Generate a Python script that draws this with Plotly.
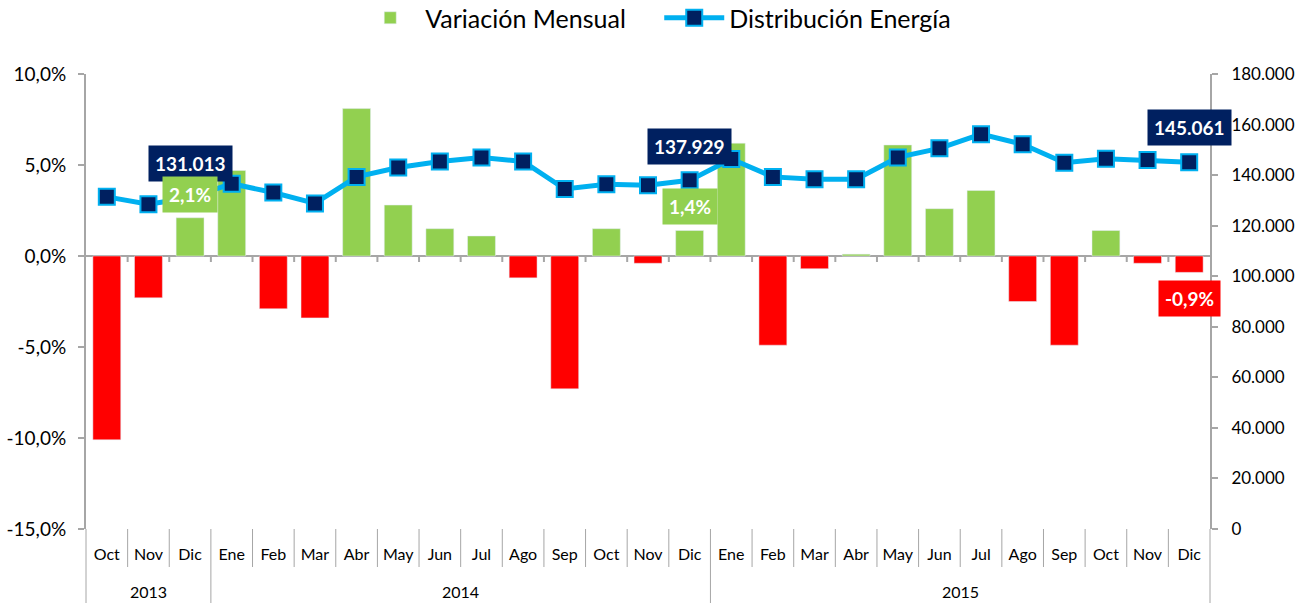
import plotly.graph_objects as go

months = ["Oct", "Nov", "Dic", "Ene", "Feb", "Mar", "Abr", "May", "Jun", "Jul", "Ago", "Sep",
          "Oct", "Nov", "Dic", "Ene", "Feb", "Mar", "Abr", "May", "Jun", "Jul", "Ago", "Sep",
          "Oct", "Nov", "Dic"]
years = ["2013"] * 3 + ["2014"] * 12 + ["2015"] * 12
variacion = [-10.1, -2.3, 2.1, 4.7, -2.9, -3.4, 8.1, 2.8, 1.5, 1.1, -1.2, -7.3,
             1.5, -0.4, 1.4, 6.2, -4.9, -0.7, 0.1, 6.1, 2.6, 3.6, -2.5, -4.9,
             1.4, -0.4, -0.9]
distribucion = [131400, 128500, 131013, 136600, 133100, 128800, 139300, 143000, 145400,
                147000, 145400, 134500, 136400, 136000, 137929, 146400, 139300, 138400,
                138400, 147000, 150600, 156200, 152200, 144900, 146500, 146000, 145061]
left_tickvals = [-15, -10, -5, 0, 5, 10]
left_ticktext = ["-15,0%", "-10,0%", "-5,0%", "0,0%", "5,0%", "10,0%"]
right_tickvals = [0, 20000, 40000, 60000, 80000, 100000, 120000, 140000, 160000, 180000]
right_ticktext = ["0", "20.000", "40.000", "60.000", "80.000", "100.000", "120.000",
                  "140.000", "160.000", "180.000"]

GREEN = "#92D050"
RED = "#FF0000"
NAVY = "#002060"
CYAN = "#00B0F0"
GREY = "#A6A6A6"
FONT = "Lato"

n = len(months)
xs = list(range(n))
pos = [v if v >= 0 else None for v in variacion]
neg = [v if v < 0 else None for v in variacion]

fig = go.Figure()
fig.add_trace(go.Bar(x=xs, y=pos, name="Variación Mensual", marker_color=GREEN,
                     width=0.67, yaxis="y"))
fig.add_trace(go.Bar(x=xs, y=neg, name="neg", marker_color=RED, width=0.67,
                     yaxis="y", showlegend=False))
fig.add_trace(go.Scatter(x=xs, y=distribucion, name="Distribución Energía", yaxis="y2",
                         mode="lines+markers",
                         line=dict(color=CYAN, width=5),
                         marker=dict(symbol="square", size=16, color=NAVY,
                                     line=dict(color=CYAN, width=2))))

lo, hi = -15, 10
zero_paper = (0 - lo) / (hi - lo)
px_h = 455.0
shapes = []
for i in range(n - 1):
    xp = (i + 1) / n
    shapes.append(dict(type="line", xref="paper", yref="paper", x0=xp, x1=xp,
                       y0=zero_paper, y1=zero_paper - 6 / px_h,
                       line=dict(color=GREY, width=2)))
    is_year = years[i] != years[i + 1]
    shapes.append(dict(type="line", xref="paper", yref="paper", x0=xp, x1=xp,
                       y0=0, y1=-(74 if is_year else 38) / px_h,
                       line=dict(color=GREY, width=1)))
for xp in (0, 1):
    shapes.append(dict(type="line", xref="paper", yref="paper", x0=xp, x1=xp,
                       y0=0, y1=-74 / px_h, line=dict(color=GREY, width=1)))

annotations = []
seen = []
for y in years:
    if y not in seen:
        seen.append(y)
for y in seen:
    idx = [i for i, v in enumerate(years) if v == y]
    annotations.append(dict(x=(idx[0] + idx[-1]) / 2, xref="x", y=-62 / px_h, yref="paper",
                            text=y, showarrow=False, font=dict(family=FONT, size=16, color="black"),
                            yanchor="middle"))


def fmt_int(v):
    return f"{v:,}".replace(",", ".")


def fmt_pct(v):
    return f"{v:.1f}%".replace(".", ",")


for i, shift in ((2, 34), (14, 34), (26, 35)):
    annotations.append(dict(x=i, xref="x", y=distribucion[i], yref="y2", yshift=shift,
                            text="<b>" + fmt_int(distribucion[i]) + "</b>", showarrow=False,
                            bgcolor=NAVY, borderpad=6,
                            font=dict(family=FONT, size=19, color="white")))
for i, shift in ((2, 23), (14, 24), (26, -26)):
    annotations.append(dict(x=i, xref="x", y=variacion[i], yref="y", yshift=shift,
                            text="<b>" + fmt_pct(variacion[i]) + "</b>", showarrow=False,
                            bgcolor=GREEN if variacion[i] >= 0 else RED, borderpad=6,
                            font=dict(family=FONT, size=19, color="white")))

fig.update_layout(
    width=1310, height=603,
    margin=dict(l=86, r=100, t=74, b=74, autoexpand=False),
    paper_bgcolor="white", plot_bgcolor="white",
    barmode="relative",
    font=dict(family=FONT, color="black"),
    showlegend=True,
    legend=dict(orientation="h", x=0.510, xanchor="center",
                yref="container", y=1 - 18 / 603, yanchor="middle",
                font=dict(family=FONT, size=25, color="black"), itemwidth=60,
                entrywidth=229, entrywidthmode="pixels", traceorder="normal",
                bgcolor="rgba(0,0,0,0)"),
    xaxis=dict(range=[-0.5, n - 0.5], tickvals=xs, ticktext=months, showline=False,
               showgrid=False, zeroline=False, ticks="", ticklabelstandoff=14,
               tickfont=dict(family=FONT, size=16, color="black")),
    yaxis=dict(range=[lo, hi], tickvals=left_tickvals, ticktext=left_ticktext,
               showgrid=False, showline=True, linecolor=GREY, linewidth=2,
               ticks="outside", ticklen=6, tickcolor=GREY, tickwidth=2,
               ticklabelstandoff=8,
               zeroline=True, zerolinecolor=GREY, zerolinewidth=2,
               tickfont=dict(family=FONT, size=19, color="black")),
    yaxis2=dict(range=[0, 180000], overlaying="y", side="right", tickvals=right_tickvals,
                ticktext=right_ticktext, showgrid=False, showline=True, linecolor=GREY,
                linewidth=2, ticks="outside", ticklen=6, tickcolor=GREY, tickwidth=2,
                ticklabelstandoff=10,
                zeroline=False, tickfont=dict(family=FONT, size=17, color="black")),
    shapes=shapes,
    annotations=annotations,
)

fig.write_html("out.html", config={"displayModeBar": False},
               post_script="document.body.style.margin='0';")
